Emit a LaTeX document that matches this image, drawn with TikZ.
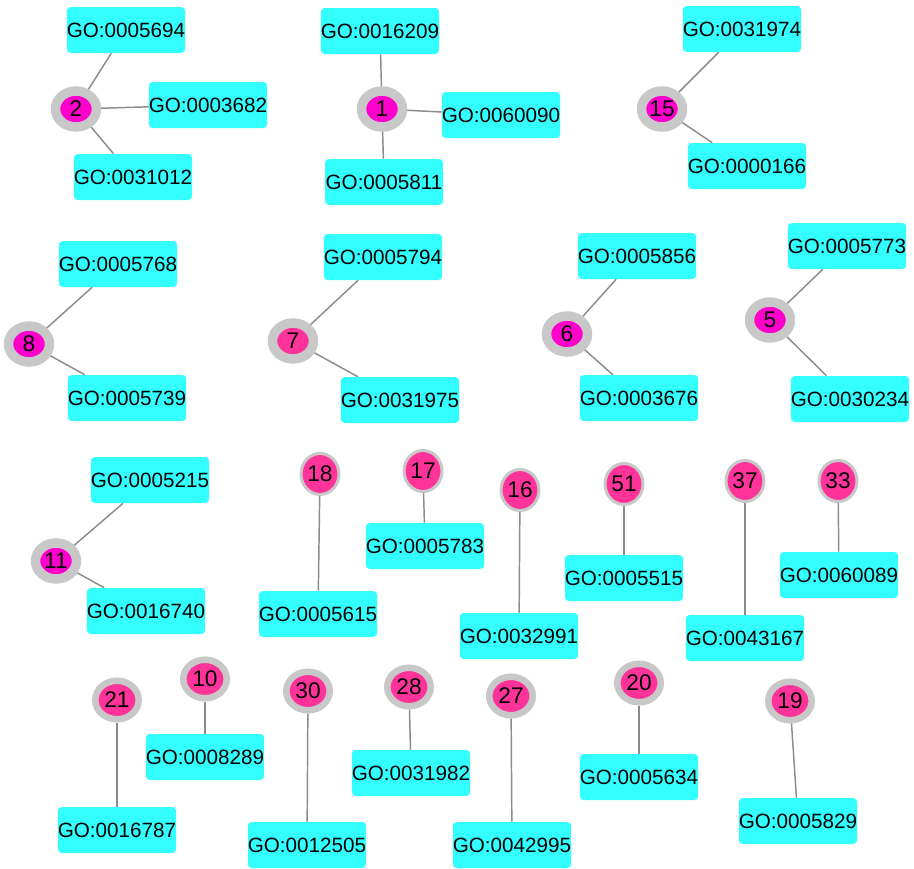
\documentclass[tikz,border=0pt]{standalone}
\usepackage{fontspec}
\setmainfont{Liberation Sans}
\usetikzlibrary{shapes.geometric}
\definecolor{goblue}{RGB}{51,255,255}
\definecolor{hubmag}{RGB}{255,0,204}
\definecolor{leafpink}{RGB}{255,51,153}
\definecolor{ringgray}{RGB}{200,200,200}
\definecolor{edgegray}{RGB}{140,140,140}

\begin{document}
\begin{tikzpicture}[x=0.75pt,y=-0.75pt,
  goterm/.style={rectangle,rounded corners=3pt,fill=goblue,inner sep=0pt,
    minimum width=88.5pt,minimum height=34.5pt,font=\fontsize{15.5}{18}\selectfont},
  gene/.style={ellipse,draw=ringgray,inner sep=0pt,font=\fontsize{17}{20}\selectfont},
  hubgene/.style={gene,line width=7.1pt,minimum width=30.75pt,minimum height=27pt},
  thickgene/.style={gene,fill=leafpink,line width=4.9pt,minimum width=32.6pt,minimum height=28.9pt},
  thingene/.style={gene,fill=leafpink,line width=2.25pt,minimum width=28.5pt,minimum height=30.75pt},
  link/.style={draw=edgegray,line width=1.1pt}]
  \useasboundingbox (0,0) rectangle (914,868);
  % first row
  \node[hubgene,fill=hubmag] (p2) at (76,109) {2};
  \node[goterm] (g5694) at (126,30) {GO:0005694};
  \node[goterm] (g3682) at (208,105) {GO:0003682};
  \node[goterm] (g31012) at (133,177) {GO:0031012};
  \node[hubgene,fill=hubmag] (p1) at (382,109) {1};
  \node[goterm] (g16209) at (380,31) {GO:0016209};
  \node[goterm] (g60090) at (501,115) {GO:0060090};
  \node[goterm] (g5811) at (384,182) {GO:0005811};
  \node[hubgene,fill=hubmag] (p15) at (662,109) {15};
  \node[goterm] (g31974) at (742,29) {GO:0031974};
  \node[goterm] (g166) at (747,166) {GO:0000166};
  \draw[link] (p2) -- (g5694);
  \draw[link] (p2) -- (g3682);
  \draw[link] (p2) -- (g31012);
  \draw[link] (p1) -- (g16209);
  \draw[link] (p1) -- (g60090);
  \draw[link] (p1) -- (g5811);
  \draw[link] (p15) -- (g31974);
  \draw[link] (p15) -- (g166);
  % second row
  \node[hubgene,fill=hubmag] (p8) at (29,344) {8};
  \node[goterm] (g5768) at (118,264) {GO:0005768};
  \node[goterm] (g5739) at (127,398) {GO:0005739};
  \node[hubgene,fill=leafpink] (p7) at (293,341) {7};
  \node[goterm] (g5794) at (383,257) {GO:0005794};
  \node[goterm] (g31975) at (400,400) {GO:0031975};
  \node[hubgene,fill=hubmag] (p6) at (567,334) {6};
  \node[goterm] (g5856) at (637,256) {GO:0005856};
  \node[goterm] (g3676) at (639,398) {GO:0003676};
  \node[hubgene,fill=hubmag] (p5) at (770,320) {5};
  \node[goterm] (g5773) at (847,246) {GO:0005773};
  \node[goterm] (g30234) at (850,399) {GO:0030234};
  \draw[link] (p8) -- (g5768);
  \draw[link] (p8) -- (g5739);
  \draw[link] (p7) -- (g5794);
  \draw[link] (p7) -- (g31975);
  \draw[link] (p6) -- (g5856);
  \draw[link] (p6) -- (g3676);
  \draw[link] (p5) -- (g5773);
  \draw[link] (p5) -- (g30234);
  % third row
  \node[hubgene,fill=hubmag] (p11) at (56,561) {11};
  \node[goterm] (g5215) at (150,480) {GO:0005215};
  \node[goterm] (g16740) at (146,611) {GO:0016740};
  \node[thingene] (p18) at (320,474) {18};
  \node[goterm] (g5615) at (318,614) {GO:0005615};
  \node[thingene] (p17) at (423,471) {17};
  \node[goterm] (g5783) at (425,546) {GO:0005783};
  \node[thingene] (p16) at (520,490) {16};
  \node[goterm] (g32991) at (519,636) {GO:0032991};
  \node[thingene] (p51) at (624,484) {51};
  \node[goterm] (g5515) at (624,578) {GO:0005515};
  \node[thingene] (p37) at (745,481) {37};
  \node[goterm] (g43167) at (745,638) {GO:0043167};
  \node[thingene] (p33) at (838,481) {33};
  \node[goterm] (g60089) at (839,575) {GO:0060089};
  \draw[link] (p11) -- (g5215);
  \draw[link] (p11) -- (g16740);
  \draw[link] (p18) -- (g5615);
  \draw[link] (p17) -- (g5783);
  \draw[link] (p16) -- (g32991);
  \draw[link] (p51) -- (g5515);
  \draw[link] (p37) -- (g43167);
  \draw[link] (p33) -- (g60089);
  % bottom row
  \node[thickgene] (p21) at (117,700) {21};
  \node[goterm] (g16787) at (117,830) {GO:0016787};
  \node[thickgene] (p10) at (205,679) {10};
  \node[goterm] (g8289) at (205,757) {GO:0008289};
  \node[thickgene] (p30) at (308,691) {30};
  \node[goterm] (g12505) at (307,845) {GO:0012505};
  \node[thickgene] (p28) at (409,687) {28};
  \node[goterm] (g31982) at (411,773) {GO:0031982};
  \node[thickgene] (p27) at (511,696) {27};
  \node[goterm] (g42995) at (512,845) {GO:0042995};
  \node[thickgene] (p20) at (639,683) {20};
  \node[goterm] (g5634) at (639,777) {GO:0005634};
  \node[thickgene] (p19) at (790,701) {19};
  \node[goterm] (g5829) at (798,821) {GO:0005829};
  \draw[link] (p21) -- (g16787);
  \draw[link] (p10) -- (g8289);
  \draw[link] (p30) -- (g12505);
  \draw[link] (p28) -- (g31982);
  \draw[link] (p27) -- (g42995);
  \draw[link] (p20) -- (g5634);
  \draw[link] (p19) -- (g5829);
\end{tikzpicture}
\end{document}
